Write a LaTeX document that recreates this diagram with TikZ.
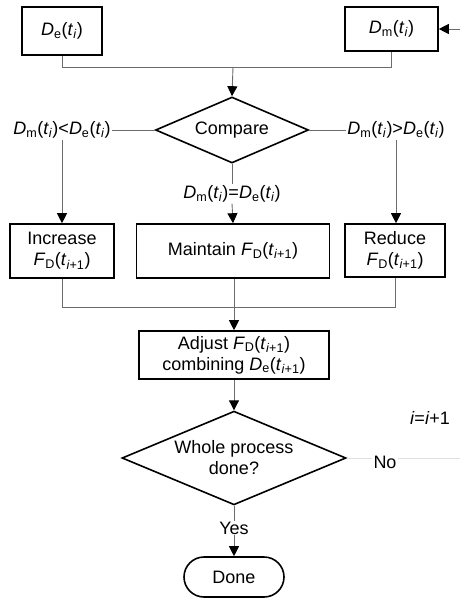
\documentclass[tikz,border=0pt]{standalone}
\usepackage{fontspec}
\setmainfont{Liberation Sans}
\usetikzlibrary{arrows.meta,shapes.geometric,shapes.misc}
\newcommand{\myD}[1]{\textit{D}\textsubscript{#1}}
\newcommand{\myF}{\textit{F}\textsubscript{D}}
\newcommand{\myti}{(\textit{t}\textsubscript{\textit{i}})}
\newcommand{\mytip}{(\textit{t}\textsubscript{\textit{i}+1})}
\begin{document}
\begin{tikzpicture}[x=1pt,y=-1pt,
  every node/.style={font=\fontsize{18}{21}\selectfont, inner sep=1pt},
  box/.style={draw=black, line width=1.6pt, align=center, inner sep=0pt},
  dia/.style={draw=black, line width=1.6pt, diamond, align=center, inner sep=0pt, aspect=2},
  conn/.style={draw=gray!85!black, line width=0.9pt},
  arr/.style={conn, -{Triangle[length=10pt,width=10pt,color=black,fill=black]}},
  faint/.style={draw=black!12, line width=1pt}]
\useasboundingbox (0,0) rectangle (460,599);
\node[box, minimum width=80, minimum height=48] (De) at (62,31) {\myD{e}\myti};
\node[box, minimum width=93, minimum height=44] (Dm) at (391.5,29) {\myD{m}\myti};
\node[dia, minimum width=153, minimum height=66] (cmp) at (232,130) {Compare};
\node (lt) at (62,130) {\myD{m}\myti<\myD{e}\myti};
\node (gt) at (396,130) {\myD{m}\myti>\myD{e}\myti};
\node (eq) at (232,194) {\myD{m}\myti=\myD{e}\myti};
\node[box, minimum width=104, minimum height=54] (inc) at (62,251) {Increase\\\myF\mytip};
\node[box, minimum width=193, minimum height=54] (mt) at (233,251) {Maintain \myF\mytip};
\node[box, minimum width=100, minimum height=53] (rd) at (395,250.5) {Reduce\\\myF\mytip};
\node[box, minimum width=190, minimum height=48] (adj) at (234,355) {Adjust \myF\mytip\\combining \myD{e}\mytip};
\node[dia, minimum width=224, minimum height=81] (wh) at (234,458) {Whole process\\done?};
\node (no) at (385,462) {No};
\node (ii) at (430,418) {\textit{i}=\textit{i}+1};
\node (yes) at (234,528) {Yes};
\node[draw=black, line width=1.6pt, rounded rectangle, minimum width=100, minimum height=40, inner sep=0pt] (done) at (234,577) {Done};
\coordinate (jt) at (233,67);
\coordinate (jb) at (234,307);
\coordinate (loopin) at (460,29);
\coordinate (loopout) at (460,458);
% top joins
\draw[conn] (De.south) |- (jt);
\draw[conn] (Dm.south) |- (jt);
\draw[arr] (jt) -- (cmp.north);
\draw[arr] (loopin) -- (Dm.east);
% compare branches
\draw[conn] (cmp.west) -- (lt.east);
\draw[conn] (cmp.east) -- (gt.west);
\draw[arr] (lt.south) -- (inc.north);
\draw[arr] (gt.south) -- (gt.south |- rd.north);
\draw[conn] (cmp.south) -- (eq.north);
\draw[arr] (eq.south) -- (mt.north);
% bottom joins
\draw[conn] (inc.south) |- (jb);
\draw[conn] (rd.south) |- (jb);
\draw[conn] (mt.south -| jb) -- (jb);
\draw[arr] (jb) -- (adj.north);
\draw[arr] (adj.south) -- (wh.north);
% whole process
\draw[faint] (wh.east) -- (wh.east -| no.west);
\draw[faint] (wh.east -| no.east) -- (loopout);
\draw[conn] (wh.south) -- (yes.north);
\draw[arr] (yes.south) -- (done.north);
\end{tikzpicture}
\end{document}
